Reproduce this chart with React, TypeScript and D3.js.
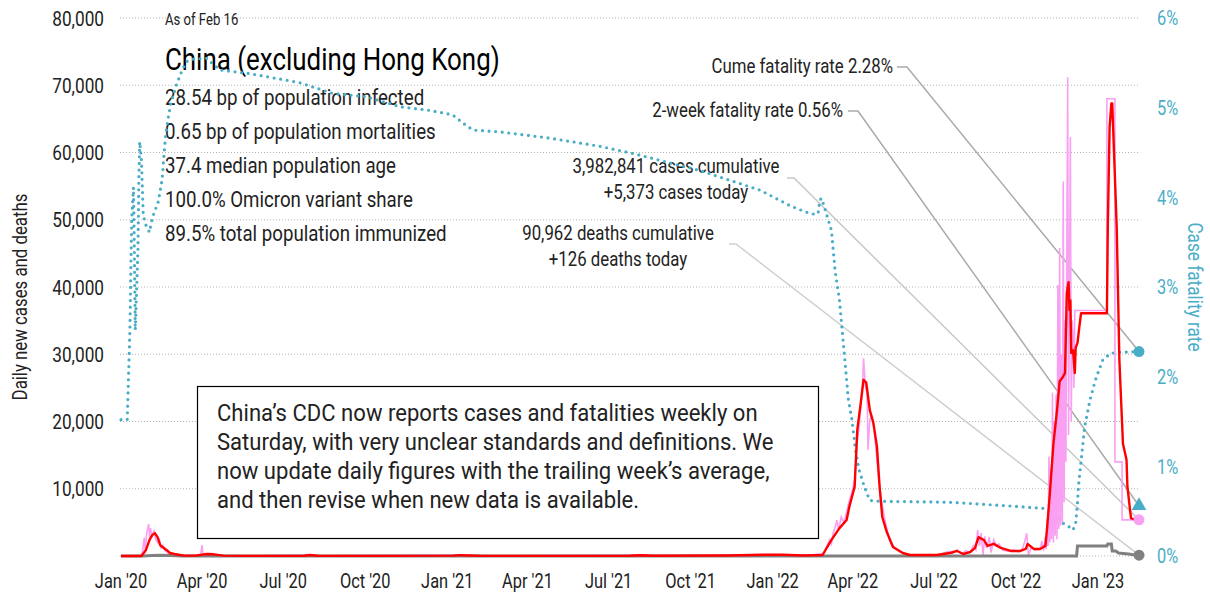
import React from 'react';
import * as d3 from 'd3';

type Pt = [string, number];

// no condensed face is installed, so Roboto gets squeezed horizontally
const FONT = 'Roboto, sans-serif';
const SQUEEZE = 0.82;
const CYAN = '#4aadc7';
const PINK = '#f9a0f2';
const RED = '#ff0000';
const GRAY = '#808080';

// daily reported cases (raw)
const dailyCases: Pt[] = [
  ['2020-01-01', 0], ['2020-01-22', 0], ['2020-01-25', 500], ['2020-01-27', 2700], ['2020-01-28', 1000],
  ['2020-01-30', 3500], ['2020-02-01', 4750], ['2020-02-02', 2800], ['2020-02-03', 4150], ['2020-02-05', 3000],
  ['2020-02-07', 3700], ['2020-02-09', 2500], ['2020-02-11', 2000], ['2020-02-13', 2400], ['2020-02-15', 1200],
  ['2020-02-17', 1600], ['2020-02-19', 900], ['2020-02-22', 500], ['2020-02-26', 350], ['2020-03-02', 200],
  ['2020-03-08', 80], ['2020-03-15', 30], ['2020-03-30', 50], ['2020-04-01', 1600], ['2020-04-02', 100],
  ['2020-04-08', 300], ['2020-04-12', 250], ['2020-04-20', 50], ['2020-05-15', 10], ['2020-07-30', 150],
  ['2020-08-10', 30], ['2021-01-12', 150], ['2021-01-20', 120], ['2021-02-10', 20], ['2021-08-05', 130],
  ['2021-09-01', 40], ['2021-11-10', 90], ['2021-12-26', 210], ['2022-01-15', 170], ['2022-02-10', 90],
  ['2022-02-28', 400], ['2022-03-03', 1500], ['2022-03-06', 2400], ['2022-03-08', 1800], ['2022-03-10', 3500],
  ['2022-03-12', 4200], ['2022-03-14', 5350], ['2022-03-16', 3900], ['2022-03-19', 5800], ['2022-03-22', 5000],
  ['2022-03-25', 6500], ['2022-03-28', 8300], ['2022-03-31', 9500], ['2022-04-03', 11300], ['2022-04-06', 17250],
  ['2022-04-08', 19000], ['2022-04-10', 22450], ['2022-04-12', 26000], ['2022-04-13', 29400], ['2022-04-15', 25400],
  ['2022-04-17', 24000], ['2022-04-18', 15800], ['2022-04-20', 20200], ['2022-04-22', 21000], ['2022-04-25', 18700],
  ['2022-04-29', 12800], ['2022-05-03', 8300], ['2022-05-07', 5350], ['2022-05-12', 2400], ['2022-05-18', 1200],
  ['2022-05-28', 400], ['2022-06-05', 150], ['2022-07-05', 150], ['2022-07-12', 450], ['2022-07-18', 700],
  ['2022-07-22', 400], ['2022-07-27', 900], ['2022-08-01', 300], ['2022-08-06', 800], ['2022-08-10', 400],
  ['2022-08-14', 1500], ['2022-08-17', 900], ['2022-08-19', 3870], ['2022-08-21', 1500], ['2022-08-23', 3400],
  ['2022-08-25', 150], ['2022-08-27', 2900], ['2022-08-29', 1200], ['2022-09-01', 2800], ['2022-09-03', 500],
  ['2022-09-06', 2400], ['2022-09-09', 1500], ['2022-09-12', 1800], ['2022-09-16', 900], ['2022-09-22', 700],
  ['2022-09-28', 900], ['2022-10-04', 600], ['2022-10-08', 1000], ['2022-10-11', 2200], ['2022-10-13', 3400],
  ['2022-10-15', 150], ['2022-10-18', 1200], ['2022-10-23', 900], ['2022-10-28', 1000], ['2022-10-30', 2200],
  ['2022-11-01', 800], ['2022-11-03', 2800], ['2022-11-04', 1000], ['2022-11-05', 5500], ['2022-11-06', 1500],
  ['2022-11-07', 14800], ['2022-11-08', 2000], ['2022-11-09', 13000], ['2022-11-10', 2500], ['2022-11-11', 24300],
  ['2022-11-12', 2000], ['2022-11-13', 20000], ['2022-11-14', 3000], ['2022-11-15', 24000], ['2022-11-16', 2500],
  ['2022-11-17', 40300], ['2022-11-18', 4000], ['2022-11-19', 45800], ['2022-11-20', 4500], ['2022-11-21', 30000],
  ['2022-11-22', 5000], ['2022-11-23', 55700], ['2022-11-24', 8000], ['2022-11-25', 35000], ['2022-11-26', 14000],
  ['2022-11-27', 45000], ['2022-11-28', 71200], ['2022-11-29', 18000], ['2022-11-30', 40000], ['2022-12-01', 62300],
  ['2022-12-02', 20000], ['2022-12-03', 35000], ['2022-12-04', 33000], ['2022-12-05', 25000], ['2022-12-06', 36500],
  ['2023-01-11', 36500], ['2023-01-11', 68000], ['2023-01-20', 68000], ['2023-01-20', 14000], ['2023-01-28', 14000],
  ['2023-01-28', 5373], ['2023-02-16', 5373],
];

// 7-day average of cases
const avgCases: Pt[] = [
  ['2020-01-01', 0], ['2020-01-24', 0], ['2020-01-29', 900], ['2020-02-02', 2400], ['2020-02-05', 3100],
  ['2020-02-08', 3400], ['2020-02-11', 2800], ['2020-02-14', 1600], ['2020-02-18', 1200], ['2020-02-21', 900],
  ['2020-02-25', 450], ['2020-03-01', 300], ['2020-03-07', 150], ['2020-03-12', 50], ['2020-03-25', 60],
  ['2020-04-06', 300], ['2020-04-14', 250], ['2020-04-25', 50], ['2020-05-20', 20], ['2020-07-25', 40],
  ['2020-07-31', 150], ['2020-08-08', 40], ['2020-10-15', 20], ['2021-01-08', 60], ['2021-01-15', 130],
  ['2021-01-25', 80], ['2021-02-10', 20], ['2021-07-25', 40], ['2021-08-05', 120], ['2021-08-20', 40],
  ['2021-11-10', 80], ['2021-12-26', 200], ['2022-01-12', 180], ['2022-02-05', 80], ['2022-02-26', 150],
  ['2022-03-08', 2400], ['2022-03-17', 4150], ['2022-03-25', 5350], ['2022-03-28', 7300], ['2022-04-03', 10300],
  ['2022-04-06', 18800], ['2022-04-10', 22900], ['2022-04-13', 26200], ['2022-04-16', 25800], ['2022-04-20', 21700],
  ['2022-04-24', 19800], ['2022-04-28', 16300], ['2022-05-01', 10300], ['2022-05-04', 5800], ['2022-05-09', 3600],
  ['2022-05-16', 1350], ['2022-05-27', 450], ['2022-06-04', 150], ['2022-07-04', 150], ['2022-07-19', 450],
  ['2022-07-27', 750], ['2022-08-03', 300], ['2022-08-11', 600], ['2022-08-16', 1200], ['2022-08-20', 2800],
  ['2022-08-26', 2380], ['2022-08-30', 1500], ['2022-09-06', 1800], ['2022-09-14', 1200], ['2022-09-25', 750],
  ['2022-10-06', 750], ['2022-10-12', 1050], ['2022-10-14', 1800], ['2022-10-21', 1050], ['2022-10-28', 1050],
  ['2022-11-03', 1500], ['2022-11-05', 4300], ['2022-11-08', 9300], ['2022-11-12', 16700], ['2022-11-16', 21600],
  ['2022-11-19', 26000], ['2022-11-22', 26500], ['2022-11-25', 27200], ['2022-11-27', 39100], ['2022-11-29', 40700],
  ['2022-11-30', 36600], ['2022-12-01', 38000], ['2022-12-02', 30200], ['2022-12-04', 30600], ['2022-12-06', 27200],
  ['2022-12-07', 31000], ['2022-12-09', 31700], ['2022-12-11', 34000], ['2022-12-13', 36100], ['2023-01-11', 36100],
  ['2023-01-12', 48900], ['2023-01-14', 63700], ['2023-01-16', 67300], ['2023-01-17', 67300], ['2023-01-22', 48900],
  ['2023-01-25', 29100], ['2023-01-29', 16700], ['2023-02-02', 14300], ['2023-02-03', 10300], ['2023-02-07', 5650],
  ['2023-02-13', 5350], ['2023-02-16', 5373],
];

// daily deaths
const dailyDeaths: Pt[] = [
  ['2020-01-01', 0], ['2020-01-25', 0], ['2020-02-05', 80], ['2020-02-15', 120], ['2020-02-25', 60],
  ['2020-03-10', 10], ['2020-03-20', 0], ['2022-12-08', 0], ['2022-12-09', 1500], ['2023-01-11', 1500],
  ['2023-01-12', 1780], ['2023-01-16', 1780], ['2023-01-17', 740], ['2023-01-21', 740], ['2023-01-24', 450],
  ['2023-02-04', 300], ['2023-02-10', 180], ['2023-02-16', 126],
];

// cumulative case fatality rate, %
const fatalityRate: Pt[] = [
  ['2020-01-01', 1.52], ['2020-01-08', 1.52], ['2020-01-11', 2.52], ['2020-01-12', 3.19], ['2020-01-13', 3.75],
  ['2020-01-15', 4.11], ['2020-01-16', 3.41], ['2020-01-17', 2.52], ['2020-01-20', 3.41], ['2020-01-21', 4.19],
  ['2020-01-22', 4.62], ['2020-01-24', 4.41], ['2020-01-25', 4.08], ['2020-01-26', 3.8], ['2020-01-29', 3.69],
  ['2020-02-02', 3.61], ['2020-02-04', 3.72], ['2020-02-08', 3.86], ['2020-02-11', 3.91], ['2020-02-13', 4.02],
  ['2020-02-16', 4.19], ['2020-02-20', 4.69], ['2020-02-23', 4.89], ['2020-02-26', 5.05], ['2020-03-03', 5.25],
  ['2020-03-08', 5.38], ['2020-03-14', 5.51], ['2020-03-20', 5.54], ['2020-04-06', 5.55], ['2020-04-21', 5.42],
  ['2020-05-24', 5.38], ['2020-07-19', 5.28], ['2020-08-25', 5.16], ['2020-10-03', 5.12], ['2020-11-09', 5.01],
  ['2020-12-12', 4.97], ['2021-01-07', 4.92], ['2021-01-21', 4.81], ['2021-01-30', 4.75], ['2021-03-01', 4.73],
  ['2021-04-26', 4.66], ['2021-06-21', 4.57], ['2021-07-28', 4.49], ['2021-10-11', 4.3], ['2021-12-18', 4.08],
  ['2022-01-20', 3.91], ['2022-02-06', 3.84], ['2022-02-17', 3.81], ['2022-02-21', 3.82], ['2022-02-23', 3.97],
  ['2022-02-25', 3.99], ['2022-03-01', 3.86], ['2022-03-08', 3.63], ['2022-03-12', 3.19], ['2022-03-17', 2.85],
  ['2022-03-20', 2.52], ['2022-03-23', 2.19], ['2022-03-27', 1.74], ['2022-03-31', 1.52], ['2022-04-04', 1.18],
  ['2022-04-08', 0.96], ['2022-04-14', 0.77], ['2022-04-20', 0.62], ['2022-05-01', 0.61], ['2022-07-18', 0.6],
  ['2022-09-21', 0.56], ['2022-11-02', 0.53], ['2022-11-13', 0.48], ['2022-11-22', 0.37], ['2022-11-29', 0.33],
  ['2022-12-04', 0.29], ['2022-12-07', 0.37], ['2022-12-09', 0.59], ['2022-12-10', 0.77], ['2022-12-14', 1.15],
  ['2022-12-17', 1.44], ['2022-12-23', 1.74], ['2022-12-29', 1.96], ['2023-01-06', 2.18], ['2023-01-15', 2.26],
  ['2023-01-23', 2.27], ['2023-02-16', 2.28],
];

const twoWeekRate = 0.56;

const leftTicks = [10000, 20000, 30000, 40000, 50000, 60000, 70000, 80000];
const gridTicks = [0, 10000, 20000, 30000, 40000, 50000, 60000, 70000, 80000];
const rightTicks = [0, 1, 2, 3, 4, 5, 6];
const xTicks: [string, string][] = [
  ['2020-01-01', "Jan '20"], ['2020-04-01', "Apr '20"], ['2020-07-01', "Jul '20"], ['2020-10-01', "Oct '20"],
  ['2021-01-01', "Jan '21"], ['2021-04-01', "Apr '21"], ['2021-07-01', "Jul '21"], ['2021-10-01', "Oct '21"],
  ['2022-01-01', "Jan '22"], ['2022-04-01', "Apr '22"], ['2022-07-01', "Jul '22"], ['2022-10-01', "Oct '22"],
  ['2023-01-01', "Jan '23"],
];

const statLines = [
  '28.54 bp of population infected',
  '0.65 bp of population mortalities',
  '37.4 median population age',
  '100.0% Omicron variant share',
  '89.5% total population immunized',
];

const noteLines = [
  'China\u2019s CDC now reports cases and fatalities weekly on',
  'Saturday, with very unclear standards and definitions. We',
  'now update daily figures with the trailing week\u2019s average,',
  'and then revise when new data is available.',
];

const parse = (s: string) => new Date(s + 'T00:00:00Z');

interface TProps {
  x: number;
  y: number;
  size: number;
  anchor?: 'start' | 'middle' | 'end';
  fill?: string;
  rotate?: number;
  dy?: string;
  k?: number;
  children: React.ReactNode;
}

// condensed-looking text: translate, optional rotate, then squeeze horizontally
const T: React.FC<TProps> = ({ x, y, size, anchor = 'start', fill = '#222', rotate = 0, dy, k = SQUEEZE, children }) => (
  <text
    transform={`translate(${x},${y})${rotate ? ` rotate(${rotate})` : ''} scale(${k},1)`}
    fontFamily={FONT}
    fontSize={size}
    textAnchor={anchor}
    fill={fill}
    dy={dy}
  >
    {children}
  </text>
);

export default function App() {
  const W = 1210;
  const H = 597;
  const left = 120;
  const right = 1139;
  const top = 18;
  const bottom = 556;

  const x = d3.scaleUtc().domain([parse('2020-01-01'), parse('2023-02-16')]).range([121, right]);
  const yL = d3.scaleLinear().domain([0, 80000]).range([bottom, top]);
  const yR = d3.scaleLinear().domain([0, 6]).range([bottom, top]);

  const countLine = d3.line<Pt>().x((d) => x(parse(d[0]))).y((d) => yL(d[1]));
  const rateLine = d3.line<Pt>().x((d) => x(parse(d[0]))).y((d) => yR(d[1]));

  const last = (a: Pt[]) => a[a.length - 1];
  const endX = x(parse(last(fatalityRate)[0]));
  const cfrY = yR(last(fatalityRate)[1]);
  const twoWkY = yR(twoWeekRate);
  const casesY = yL(last(dailyCases)[1]);
  const deathsY = yL(last(dailyDeaths)[1]);

  const tri = d3.symbol(d3.symbolTriangle, 95)() as string;

  return (
    <svg width={W} height={H} style={{ position: 'absolute', left: 0, top: 0, background: '#fff' }}>
      {/* grid */}
      {gridTicks.map((t) => (
        <line key={t} x1={left} x2={right - 1} y1={yL(t)} y2={yL(t)} stroke="#b5b5b5" strokeWidth={1} strokeDasharray="1 2" />
      ))}

      {/* axis labels */}
      {leftTicks.map((t) => (
        <T key={t} x={104} y={yL(t)} dy="0.36em" anchor="end" size={21}>
          {d3.format(',')(t)}
        </T>
      ))}
      {rightTicks.map((t) => (
        <T key={t} x={1157} y={yR(t)} dy="0.36em" size={20} fill={CYAN}>
          {t}%
        </T>
      ))}
      {xTicks.map(([d, l]) => (
        <T key={d} x={x(parse(d))} y={588} anchor="middle" size={20}>
          {l}
        </T>
      ))}

      <T x={27} y={297} rotate={-90} anchor="middle" size={20.5}>
        Daily new cases and deaths
      </T>
      <T x={1188} y={287} rotate={90} anchor="middle" size={21} fill={CYAN}>
        Case fatality rate
      </T>

      {/* header */}
      <T x={165} y={25} size={16}>As of Feb 16</T>
      <T x={165} y={70} size={31.6} fill="#000">China (excluding Hong Kong)</T>
      {statLines.map((s, i) => (
        <T key={s} x={165} y={105 + i * 34} size={22.8}>{s}</T>
      ))}

      {/* leader lines */}
      <polyline points={`897,67 907,67 ${endX},${cfrY}`} fill="none" stroke="#aaa" strokeWidth={1.5} />
      <polyline points={`848,111 858,111 ${endX},${twoWkY}`} fill="none" stroke="#aaa" strokeWidth={1.5} />
      <polyline points={`787,178 794,178 ${endX},${casesY}`} fill="none" stroke="#c8c8c8" strokeWidth={1.5} />
      <polyline points={`729,244 736,244 ${endX},${deathsY}`} fill="none" stroke="#cfcfcf" strokeWidth={1.5} />

      {/* annotations */}
      <T x={893} y={73} anchor="end" size={20.5}>Cume fatality rate 2.28%</T>
      <T x={843} y={117} anchor="end" size={20.5}>2-week fatality rate 0.56%</T>
      <T x={676} y={173} anchor="middle" size={20.5}>3,982,841 cases cumulative</T>
      <T x={676} y={199} anchor="middle" size={20.5}>+5,373 cases today</T>
      <T x={618} y={240} anchor="middle" size={20.5}>90,962 deaths cumulative</T>
      <T x={618} y={266} anchor="middle" size={20.5}>+126 deaths today</T>

      {/* series */}
      <path d={rateLine(fatalityRate) ?? ''} fill="none" stroke={CYAN} strokeWidth={3.2} strokeDasharray="0 6.6" strokeLinecap="round" />
      <path d={countLine(dailyCases) ?? ''} fill="none" stroke={PINK} strokeWidth={1.6} />
      <path d={countLine(dailyDeaths) ?? ''} fill="none" stroke={GRAY} strokeWidth={3} />
      <path d={countLine(avgCases) ?? ''} fill="none" stroke={RED} strokeWidth={2.4} strokeLinejoin="round" />

      {/* end markers */}
      <circle cx={endX} cy={cfrY} r={5.5} fill={CYAN} />
      <path d={tri} transform={`translate(${endX},${twoWkY})`} fill={CYAN} />
      <circle cx={endX} cy={casesY} r={5.5} fill={PINK} />
      <circle cx={endX} cy={deathsY} r={5.5} fill={GRAY} />

      {/* note box */}
      <rect x={197.5} y={386.5} width={621} height={152} fill="#fff" stroke="#000" strokeWidth={1.2} />
      {noteLines.map((l, i) => (
        <T key={i} x={217} y={421 + i * 29} size={24} k={0.92}>{l}</T>
      ))}
    </svg>
  );
}
